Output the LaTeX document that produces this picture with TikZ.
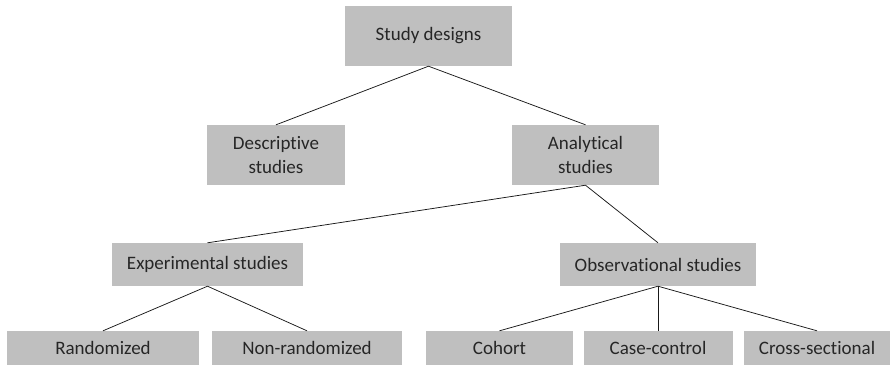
\documentclass[tikz,border=0pt]{standalone}
\usepackage{fontspec}
\setmainfont{Carlito}[Ligatures={NoCommon,NoContextual},RawFeature={-liga;-clig;-dlig}]
\definecolor{boxgray}{RGB}{191,191,191}
\definecolor{txtgray}{RGB}{38,38,38}
\begin{document}
\begin{tikzpicture}[x=1pt,y=-1pt,
  box/.style={rectangle,fill=boxgray,inner sep=0pt,align=center,text=txtgray,
    font=\fontsize{19}{24}\selectfont},
  link/.style={draw=black!90,line width=0.75pt}]
\useasboundingbox (0,0) rectangle (890,365);
\node[box,minimum width=167pt,minimum height=60pt] (sd) at (428.5,36) {Study designs};
\node[box,minimum width=138pt,minimum height=60pt] (desc) at (276,155) {Descriptive\\studies};
\node[box,minimum width=147pt,minimum height=60pt] (anal) at (585.5,155) {Analytical\\studies};
\node[box,minimum width=191pt,minimum height=43pt] (exp) at (207.5,264.5) {Experimental studies};
\node[box,minimum width=196pt,minimum height=43pt] (obs) at (658,264.5) {Observational studies};
\node[box,minimum width=192pt,minimum height=34pt] (rand) at (103,348) {Randomized};
\node[box,minimum width=190pt,minimum height=34pt] (nonr) at (307,348) {Non-randomized};
\node[box,minimum width=147pt,minimum height=34pt] (coh) at (499.5,348) {Cohort};
\node[box,minimum width=149pt,minimum height=34pt] (cc) at (658,348) {Case-control};
\node[box,minimum width=146pt,minimum height=34pt] (cs) at (817,348) {Cross-sectional};
\draw[link] (desc.north) -- (sd.south) -- (anal.north);
\draw[link] (exp.north) -- (anal.south) -- (obs.north);
\draw[link] (rand.north) -- (exp.south) -- (nonr.north);
\draw[link] (coh.north) -- (obs.south) -- (cs.north);
\draw[link] (obs.south) -- (cc.north);
\end{tikzpicture}
\end{document}
